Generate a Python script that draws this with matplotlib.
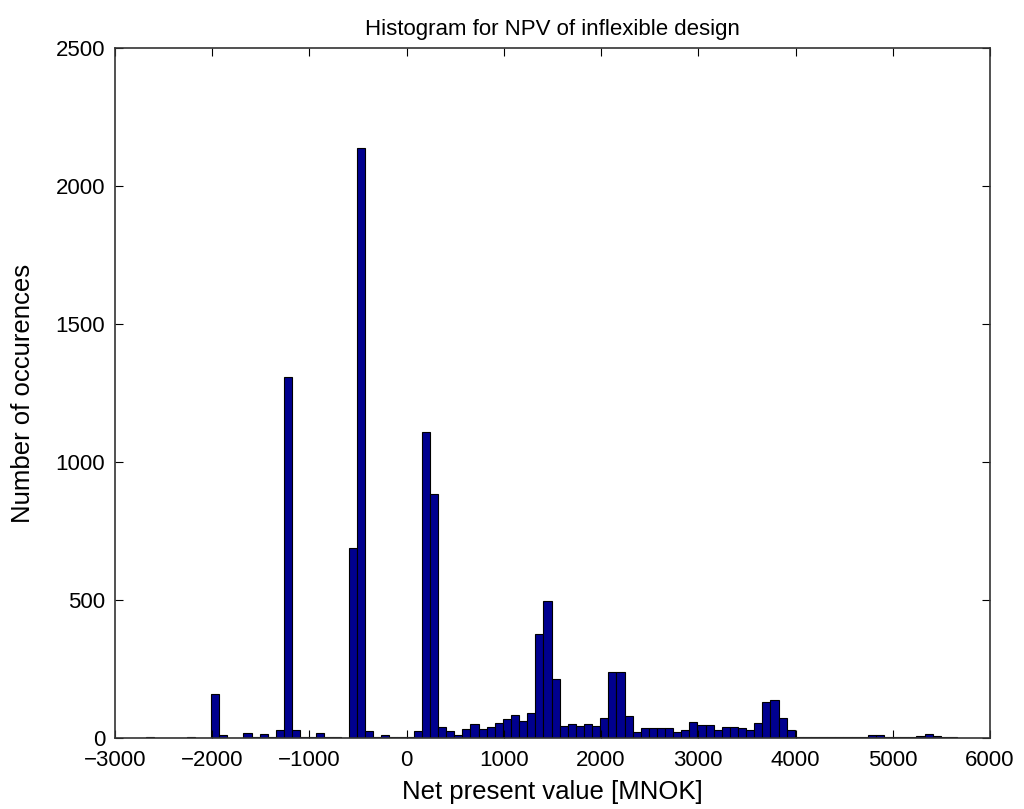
import numpy as np
import matplotlib
matplotlib.use('Agg')
import matplotlib.pyplot as plt

# histogram bin range (MNOK) and counts per bin
bin_lo = -2680
bin_hi = 5660
counts = [
    5, 1, 1, 1, 1, 5, 1, 1, 158, 12,
    1, 1, 18, 5, 13, 3, 30, 1307, 30, 3,
    3, 18, 3, 3, 1, 687, 2138, 27, 3, 12,
    3, 3, 3, 27, 1108, 883, 40, 25, 12, 33,
    50, 33, 40, 55, 68, 83, 60, 90, 375, 495,
    215, 44, 52, 42, 52, 42, 72, 240, 240, 80,
    20, 35, 35, 35, 35, 20, 28, 57, 47, 47,
    28, 40, 40, 37, 28, 55, 130, 137, 72, 30,
    3, 3, 3, 3, 3, 3, 3, 3, 3, 9,
    9, 3, 3, 3, 3, 8, 15, 8, 3, 3,
]
xticks = [-3000, -2000, -1000, 0, 1000, 2000, 3000, 4000, 5000, 6000]
yticks = [0, 500, 1000, 1500, 2000, 2500]

plt.rcParams['font.family'] = ['Liberation Sans', 'DejaVu Sans']

edges = np.linspace(bin_lo, bin_hi, len(counts) + 1)

fig = plt.figure(figsize=(10.24, 8.09), dpi=100)
ax = fig.add_axes([0.1123, 0.0878, 0.8545, 0.8529])

ax.hist(edges[:-1], bins=edges, weights=counts,
        color='#00008F', edgecolor='black', linewidth=0.8)

ax.set_xlim(-3000, 6000)
ax.set_ylim(0, 2500)
ax.set_xticks(xticks)
ax.set_yticks(yticks)
ax.set_xticklabels([str(t).replace('-', '\u2212') for t in xticks])
ax.tick_params(direction='in', length=6, labelsize=16, top=True, right=True)
ax.tick_params(axis='x', pad=9)
ax.tick_params(axis='y', pad=7)
for s in ax.spines.values():
    s.set_linewidth(1.2)
    s.set_color('#333333')

ax.set_title('Histogram for NPV of inflexible design', fontsize=16, pad=9)
ax.set_xlabel('Net present value [MNOK]', fontsize=18.5, labelpad=6)
ax.set_ylabel('Number of occurences', fontsize=18.5, labelpad=15)

fig.savefig('out.png', dpi=100)
